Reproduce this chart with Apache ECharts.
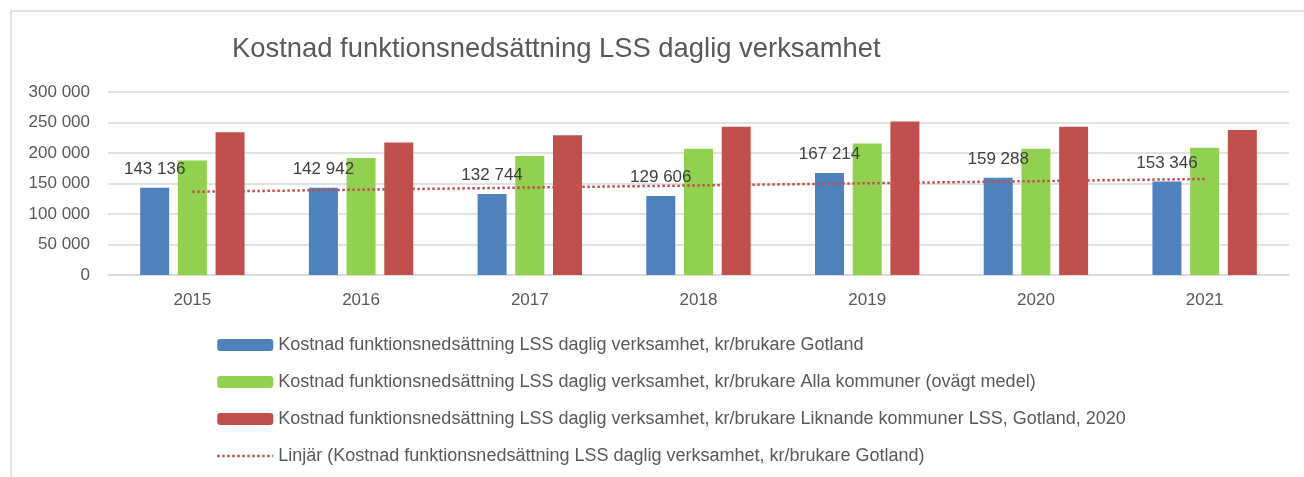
<!DOCTYPE html>
<html>
<head>
<meta charset="utf-8">
<script src="https://cdn.jsdelivr.net/npm/echarts@6/dist/echarts.min.js"></script>
<style>
  html, body { margin: 0; padding: 0; background: #fff; }
  #chart { width: 1304px; height: 477px; }
</style>
</head>
<body>
<div id="chart"></div>
<script>
// data
const years = ["2015", "2016", "2017", "2018", "2019", "2020", "2021"];
const gotland = [143136, 142942, 132744, 129606, 167214, 159288, 153346];
const allaKommuner = [187900, 191700, 195000, 206900, 215700, 206900, 208500];
const liknandeKommuner = [234200, 217300, 229300, 242900, 251600, 242900, 237900];
// linear trend of Gotland
const trendGotland = [136400, 139900, 143400, 146900, 150400, 153900, 157400];
const yTicks = [0, 50000, 100000, 150000, 200000, 250000, 300000];

const names = [
  "Kostnad funktionsnedsättning LSS daglig verksamhet, kr/brukare Gotland",
  "Kostnad funktionsnedsättning LSS daglig verksamhet, kr/brukare Alla kommuner (ovägt medel)",
  "Kostnad funktionsnedsättning LSS daglig verksamhet, kr/brukare Liknande kommuner LSS, Gotland, 2020",
  "Linjär (Kostnad funktionsnedsättning LSS daglig verksamhet, kr/brukare Gotland)",
];

const font = "'Liberation Sans', Arial, sans-serif";
const fmt = (v) => String(v).replace(/\B(?=(\d{3})+(?!\d))/g, " ");

const chart = echarts.init(document.getElementById("chart"));
chart.setOption({
  animation: false,
  textStyle: { fontFamily: font },
  graphic: [
    {
      type: "rect",
      shape: { x: 11, y: 11, width: 1400, height: 600 },
      style: { fill: "none", stroke: "#d9d9d9", lineWidth: 1.5 },
      silent: true,
    },
  ],
  title: {
    text: "Kostnad funktionsnedsättning LSS daglig verksamhet",
    left: 227,
    top: 31,
    textStyle: { fontFamily: font, fontSize: 27.4, fontWeight: "normal", color: "#595959" },
  },
  legend: {
    orient: "vertical",
    left: 211,
    top: 331,
    itemWidth: 56,
    itemHeight: 12,
    itemGap: 19,
    textStyle: { fontFamily: font, fontSize: 18, color: "#595959" },
    data: [
      names[0],
      names[1],
      names[2],
      { name: names[3], itemStyle: { opacity: 0 }, lineStyle: { width: 2.5, type: [2.5, 2.5] } },
    ],
  },
  grid: { left: 108, right: 15, top: 92, bottom: 202 },
  xAxis: {
    type: "category",
    data: years,
    axisTick: { show: false },
    axisLine: { lineStyle: { color: "#d9d9d9", width: 1.5 } },
    axisLabel: { fontFamily: font, fontSize: 17, color: "#595959", margin: 17 },
  },
  yAxis: {
    type: "value",
    min: yTicks[0],
    max: yTicks[yTicks.length - 1],
    interval: yTicks[1] - yTicks[0],
    axisLine: { show: false },
    axisTick: { show: false },
    splitLine: { lineStyle: { color: "#d9d9d9", width: 1.5 } },
    axisLabel: { fontFamily: font, fontSize: 17, color: "#595959", margin: 18, formatter: fmt },
  },
  series: [
    {
      name: names[0],
      type: "bar",
      data: gotland,
      barWidth: 29,
      barGap: "30%",
      itemStyle: { color: "#4f81bd" },
      label: {
        show: true,
        position: "top",
        distance: 10,
        fontFamily: font,
        fontSize: 17,
        color: "#404040",
        formatter: (p) => fmt(p.value),
      },
    },
    {
      name: names[1],
      type: "bar",
      data: allaKommuner,
      barWidth: 29,
      barGap: "30%",
      itemStyle: { color: "#92d050" },
    },
    {
      name: names[2],
      type: "bar",
      data: liknandeKommuner,
      barWidth: 29,
      barGap: "30%",
      itemStyle: { color: "#c0504d" },
    },
    {
      name: names[3],
      type: "line",
      data: trendGotland,
      symbol: "none",
      z: 5,
      itemStyle: { color: "#c0504d" },
      lineStyle: { color: "#c0504d", width: 2.5, type: [2.5, 2.5] },
    },
  ],
});
</script>
</body>
</html>
